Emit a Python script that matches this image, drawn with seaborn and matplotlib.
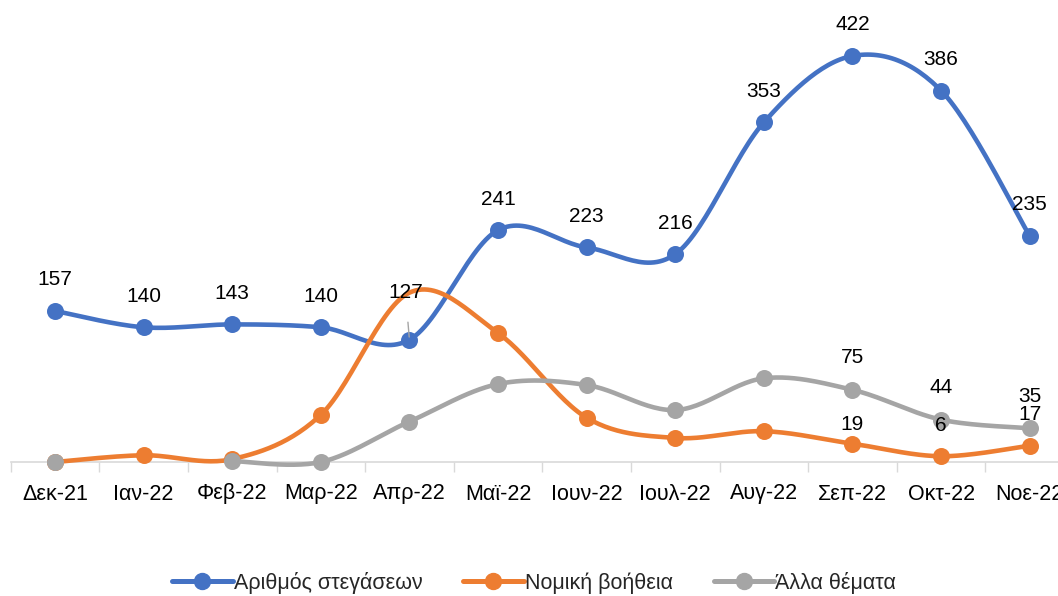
import numpy as np
import pandas as pd
import matplotlib
matplotlib.use("Agg")
import matplotlib.pyplot as plt
import seaborn as sns
from matplotlib.lines import Line2D

months = ["Δεκ-21", "Ιαν-22", "Φεβ-22", "Μαρ-22", "Απρ-22", "Μαϊ-22",
          "Ιουν-22", "Ιουλ-22", "Αυγ-22", "Σεπ-22", "Οκτ-22", "Νοε-22"]
housing = [157, 140, 143, 140, 127, 241, 223, 216, 353, 422, 386, 235]
legal = [0, 7, 3, 49, 176, 134, 46, 25, 32, 19, 6, 17]
other = [0, np.nan, 1, 0, 42, 81, 80, 54, 87, 75, 44, 35]
series_names = ["Αριθμός στεγάσεων", "Νομική βοήθεια", "Άλλα θέματα"]
colors = ["#4472C4", "#ED7D31", "#A5A5A5"]

sns.set_theme(style="white")
plt.rcParams["font.family"] = ["Liberation Sans", "DejaVu Sans"]

fig = plt.figure(figsize=(10.58, 5.96), dpi=100)
ax = fig.add_axes([10.7 / 1058, 134 / 596, 1063.3 / 1058, 433 / 596])


def smooth(xs, ys, n=30):
    xs = np.asarray(xs, float)
    ys = np.asarray(ys, float)
    P = np.column_stack([xs, ys])
    out = []
    m = len(P)
    for i in range(m - 1):
        p0 = P[i - 1] if i > 0 else P[i]
        p1 = P[i]
        p2 = P[i + 1]
        p3 = P[i + 2] if i + 2 < m else P[i + 1]
        c1 = p1 + (p2 - p0) / 6
        c2 = p2 - (p3 - p1) / 6
        t = np.linspace(0, 1, n)[:, None]
        seg = ((1 - t) ** 3) * p1 + 3 * ((1 - t) ** 2) * t * c1 + 3 * (1 - t) * t ** 2 * c2 + t ** 3 * p2
        out.append(seg if i == 0 else seg[1:])
    return np.vstack(out)


x = np.arange(len(months))
all_series = [housing, legal, other]
for k, (name, vals, col) in enumerate(zip(series_names, all_series, colors)):
    vals = np.asarray(vals, float)
    valid = ~np.isnan(vals)
    runs = []
    cur = []
    for i in range(len(vals)):
        if valid[i]:
            cur.append(i)
        else:
            if cur:
                runs.append(cur)
            cur = []
    if cur:
        runs.append(cur)
    for r in runs:
        if len(r) < 2:
            continue
        pts = smooth(x[r], vals[r])
        df = pd.DataFrame({"x": pts[:, 0], "y": pts[:, 1]})
        sns.lineplot(data=df, x="x", y="y", sort=False, estimator=None, color=col,
                     linewidth=3.3, ax=ax, legend=False, solid_capstyle="round",
                     clip_on=False, zorder=2 + k)
    mk_idx = [i for i in range(len(vals)) if valid[i] and not (k == 1 and i == 4)]
    dfm = pd.DataFrame({"x": x[mk_idx], "y": vals[mk_idx]})
    sns.scatterplot(data=dfm, x="x", y="y", color=col, s=150, edgecolor=col,
                    linewidth=0, ax=ax, legend=False, zorder=2.5 + k, clip_on=False)

lab_kw = dict(textcoords="offset pixels", ha="center", va="center", fontsize=15, color="#000000")
for i, v in enumerate(housing):
    if i == 4:
        ax.annotate(str(v), xy=(x[i], v), xytext=(-4, 47), zorder=8,
                    arrowprops=dict(arrowstyle="-", color="#A5A5A5", lw=1,
                                    shrinkA=12, shrinkB=2), **lab_kw)
    else:
        ax.annotate(str(v), xy=(x[i], v), xytext=(0, 31), zorder=8, **lab_kw)
for i in [9, 10, 11]:
    off = 19 if i == 9 else 31
    ax.annotate(str(legal[i]), xy=(x[i], legal[i]), xytext=(0, off), zorder=8, **lab_kw)
    ax.annotate(str(int(other[i])), xy=(x[i], other[i]), xytext=(0, 32), zorder=8, **lab_kw)

ax.set_xlim(-0.5, 11.5)
ax.set_ylim(0, 450)
ax.set_xlabel("")
ax.set_ylabel("")
ax.set_yticks([])
ax.set_xticks(np.arange(-0.5, 12, 1))
ax.set_xticklabels([])
ax.tick_params(axis="x", which="major", length=7, width=1, color="#D9D9D9",
               direction="out", bottom=True)
for i, m in enumerate(months):
    ax.annotate(m, xy=(x[i], 0), xycoords=("data", "axes fraction"),
                xytext=(0, -32), textcoords="offset pixels", ha="center", va="center",
                fontsize=15.5, color="#000000", annotation_clip=False)
for s in ["top", "right", "left"]:
    ax.spines[s].set_visible(False)
ax.spines["bottom"].set_color("#D9D9D9")
ax.spines["bottom"].set_linewidth(1.2)

handles = [Line2D([0], [0], color=c, lw=3.6, marker="o", markersize=11.5) for c in colors]
fig.legend(handles, series_names, loc="center", bbox_to_anchor=(534 / 1058, 13 / 596),
           ncol=3, frameon=False, fontsize=15.5,
           handlelength=2.8, handletextpad=0.05, columnspacing=1.9)

fig.savefig("out.png", dpi=100)
